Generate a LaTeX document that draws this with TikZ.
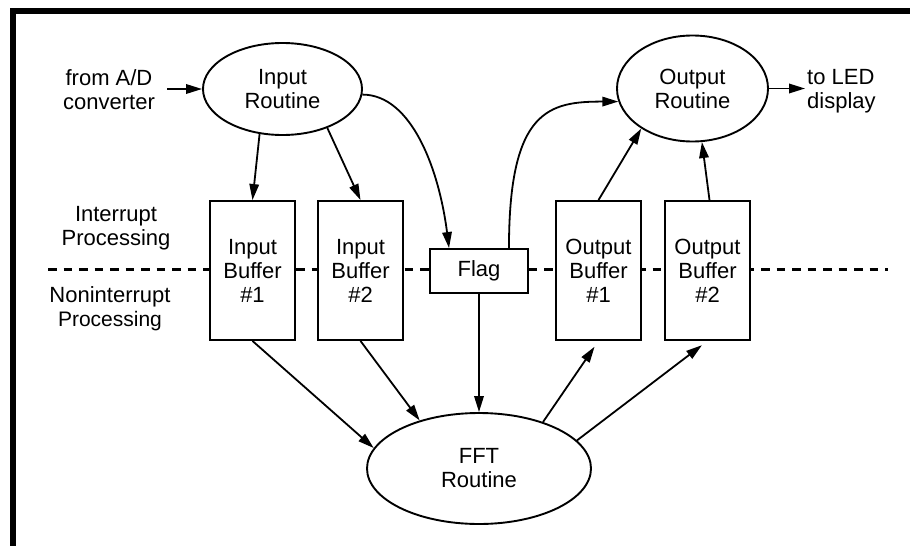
\documentclass[tikz,border=0pt]{standalone}
\usepackage{fontspec}
\setmainfont{Liberation Sans}
\usetikzlibrary{arrows.meta,shapes.geometric,calc}

\tikzset{
  routine/.style={draw, ellipse, line width=1.9pt, fill=white, inner sep=0pt, align=center},
  bufferbox/.style={draw, rectangle, line width=1.9pt, fill=white,
    minimum width=85pt, minimum height=139pt, inner sep=0pt, align=center},
  flagbox/.style={draw, rectangle, line width=1.9pt, fill=white,
    minimum width=98pt, minimum height=44pt, inner sep=0pt},
  flow/.style={line width=1.8pt, -{Triangle[length=16pt,width=9.5pt]}},
  side/.style={align=center, inner sep=0pt},
  divider/.style={line width=3.3pt, dash pattern=on 8.5pt off 7pt},
}

\begin{document}
\begin{tikzpicture}[x=1pt, y=-1pt, font=\fontsize{22pt}{24pt}\selectfont]
  \useasboundingbox (0,0) rectangle (910,546);

  % frame bars (top and left)
  \fill (10,8) rectangle (910,14);
  \fill (10,8) rectangle (16,546);

  % boundary between interrupt and noninterrupt processing
  \coordinate (dl1) at (48,269.5);
  \coordinate (dl2) at (888,269.5);
  \draw[divider] (dl1) -- (dl2);

  % routines
  \node[routine, minimum width=159pt, minimum height=92pt]  (inr)  at (282.5,89)   {Input\\Routine};
  \node[routine, minimum width=151pt, minimum height=106pt] (outr) at (692.5,88.5) {Output\\Routine};
  \node[routine, minimum width=224pt, minimum height=111pt] (fft)  at (479,468.5)  {FFT\\Routine};

  % buffers and flag
  \node[bufferbox] (ib1) at (252.5,270.5) {Input\\Buffer\\\#1};
  \node[bufferbox] (ib2) at (360.5,270.5) {Input\\Buffer\\\#2};
  \node[bufferbox] (ob1) at (598.5,270.5) {Output\\Buffer\\\#1};
  \node[bufferbox] (ob2) at (707.5,270.5) {Output\\Buffer\\\#2};
  \node[flagbox]   (flag) at (479,271) {Flag};

  % side labels
  \node[side] (fromad) at (109,90) {from A/D\\converter};
  \node[side] (intr)   at (116,228) {Interrupt\\Processing};
  \node[side] (nonint) at (110,309) {Noninterrupt\\{\fontsize{21pt}{24pt}\selectfont Processing}};
  \node[side, align=left, anchor=west] (toled) at (807,91) {to LED\\display};

  % data flow
  \draw[flow] ([xshift=12pt]fromad.east |- inr.west) -- (inr.west);
  \draw[flow, shorten >=2pt] (outr.east) -- (outr.east -| toled.west);

  \draw[flow] (inr.243) -- (ib1.north);
  \draw[flow] (inr.-41) -- (ib2.north);
  \draw[flow] (inr.-4) .. controls +(49,0) and +(-10,-79) ..
              ($(flag.north west)!0.2!(flag.north east)$);

  \draw[flow] ($(flag.north west)!0.8!(flag.north east)$)
              .. controls +(0,-139) and +(-69,0) .. (outr.190);
  \draw[flow] (ob1.north) -- (outr.218);
  \draw[flow] ([xshift=2pt]ob2.north) -- (outr.-80);

  \draw[flow] (ib1.south) -- (fft.169);
  \draw[flow] (ib2.south) -- (fft.141);
  \draw[flow] (flag.south) -- (fft.north);
  \draw[flow, shorten >=7pt] (fft.36) -- (ob1.south);
  \draw[flow, shorten >=7pt] (fft.16) -- (ob2.south);
\end{tikzpicture}
\end{document}
